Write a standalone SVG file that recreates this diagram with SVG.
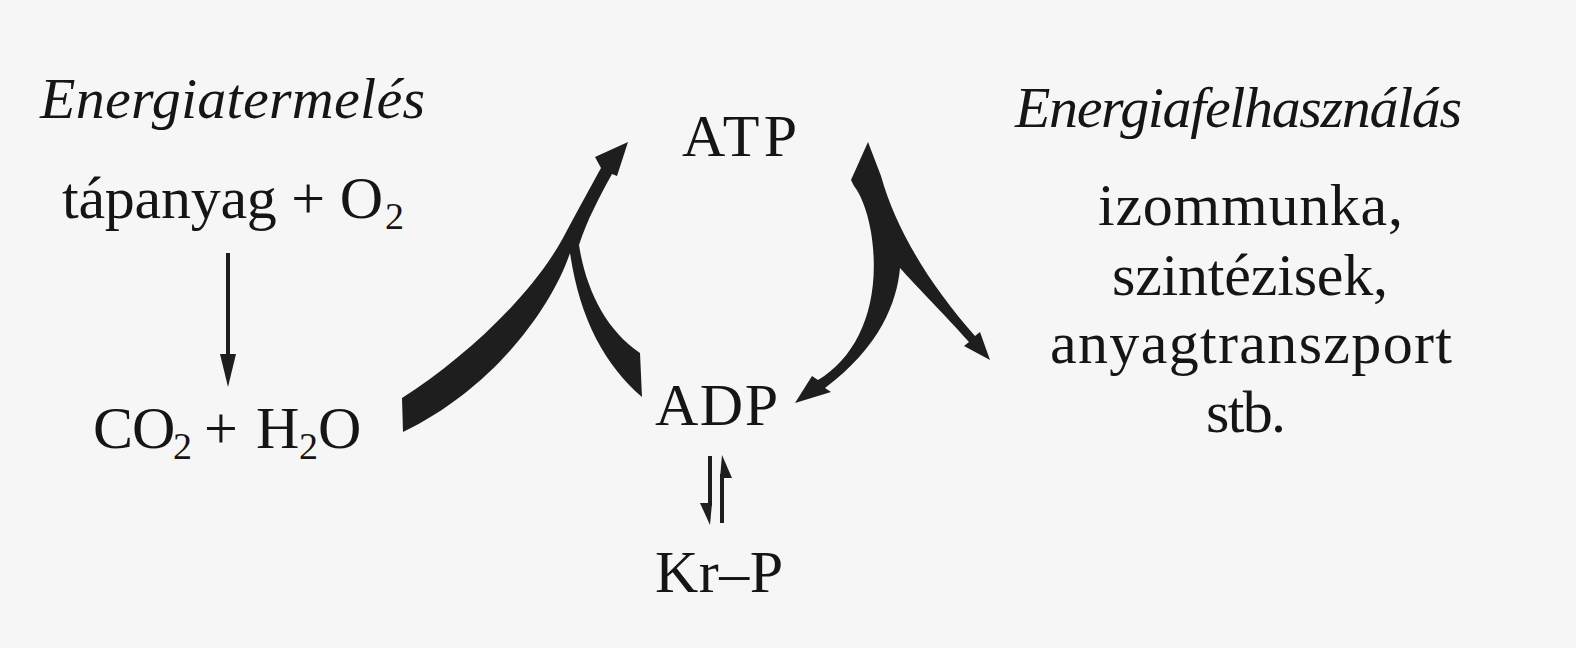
<svg xmlns="http://www.w3.org/2000/svg" width="1576" height="648" viewBox="0 0 1576 648">
<style>
.t{font-family:"Liberation Serif","Times New Roman",serif;font-size:60px;fill:#151515}
.i{font-style:italic;font-size:58px}
.sub{font-size:38px}
.band{fill:#1e1e1e}
.line{stroke:#1e1e1e;stroke-width:4;fill:none}
.head{fill:#1e1e1e}
</style>
<rect width="1576" height="648" fill="#f6f6f6"/>
<g id="energiatermeles"><text class="t i" x="40" y="118" textLength="385" lengthAdjust="spacing">Energiatermelés</text></g>
<g id="tapanyag"><text class="t" y="218"><tspan x="62" textLength="321" lengthAdjust="spacing">tápanyag + O</tspan><tspan class="sub" x="385" y="229">2</tspan></text></g>
<g id="co2h2o"><text class="t" y="448"><tspan x="93">C</tspan><tspan x="132">O</tspan><tspan class="sub" x="173" y="459">2</tspan><tspan x="204" y="448">+</tspan><tspan x="256" y="448">H</tspan><tspan class="sub" x="299" y="459">2</tspan><tspan x="318" y="448">O</tspan></text></g>
<g id="atp"><text class="t" x="682" y="156" textLength="115" lengthAdjust="spacing">ATP</text></g>
<g id="adp"><text class="t" x="655" y="425" textLength="123" lengthAdjust="spacing">ADP</text></g>
<g id="krp"><text class="t" x="655" y="592" textLength="128" lengthAdjust="spacing">Kr–P</text></g>
<g id="energiafelhasznalas"><text class="t i" x="1015" y="127" textLength="447" lengthAdjust="spacing">Energiafelhasználás</text></g>
<g id="felhasznalas-lista">
<text class="t" x="1098" y="225" textLength="305" lengthAdjust="spacing">izommunka,</text>
<text class="t" x="1112" y="295" textLength="276" lengthAdjust="spacing">szintézisek,</text>
<text class="t" x="1050" y="363" textLength="402" lengthAdjust="spacing">anyagtranszport</text>
<text class="t" x="1206" y="432" textLength="80" lengthAdjust="spacing">stb.</text>
</g>
<g id="connectors">
<line class="line" x1="228" y1="253" x2="228" y2="362"/>
<polygon class="head" points="220,354 236,354 228,387"/>
<path class="band" d="M402,398 C462,360 530,298 563,238 C578,210 590,188 601,168 L595,157 L628,142 L617,176 L612,174 C600,196 587,220 579,245 C586,290 606,330 640,353 L642,397 C605,365 580,320 570,253 C550,312 490,390 403,432 Z"/>
<path class="band" d="M868,142 L881,176 C896,230 930,285 975,336 L980,332 L990,360 L964,346 L969,342 C945,315 915,285 900,268 C897,302 880,347 825,388 L831,392 L795,403 L812,376 L818,380 C860,355 882,300 871,232 C867,208 859,192 854,186 L851,180 Z"/>
<line class="line" x1="710" y1="456" x2="710" y2="506"/>
<polygon class="head" points="700,503 712,503 710,525"/>
<line class="line" x1="722" y1="474" x2="722" y2="523"/>
<polygon class="head" points="720,478 732,478 722,455"/>
</g>
</svg>
